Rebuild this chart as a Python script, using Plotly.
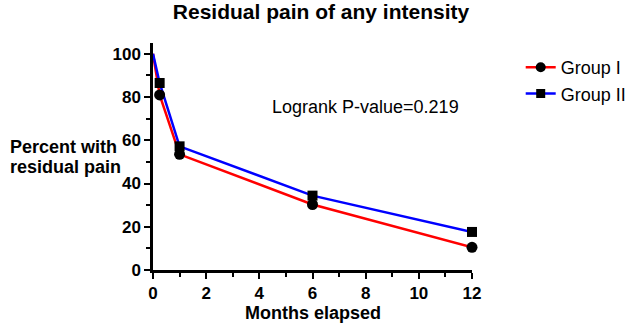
import plotly.graph_objects as go

months = [0, 0.25, 1, 6, 12]
group1 = [100, 81, 53.5, 30.3, 10.5]
group2 = [100, 86.5, 57.2, 34.4, 17.6]
x_ticks = [0, 2, 4, 6, 8, 10, 12]
y_ticks = [0, 20, 40, 60, 80, 100]

FONT = "Arial, Liberation Sans, Helvetica, sans-serif"

fig = go.Figure()
fig.add_trace(go.Scatter(x=months, y=group1, mode="lines", name="Group I",
                         line=dict(color="#ff0000", width=2.5), showlegend=False, cliponaxis=False))
fig.add_trace(go.Scatter(x=months, y=group2, mode="lines", name="Group II",
                         line=dict(color="#0000ff", width=2.5), showlegend=False, cliponaxis=False))
fig.add_trace(go.Scatter(x=months[1:], y=group1[1:], mode="markers", showlegend=False,
                         marker=dict(symbol="circle", size=11, color="black"), cliponaxis=False))
fig.add_trace(go.Scatter(x=months[1:], y=group2[1:], mode="markers", showlegend=False,
                         marker=dict(symbol="square", size=10, color="black"), cliponaxis=False))
# legend entries
fig.add_trace(go.Scatter(x=[None], y=[None], mode="lines+markers", name="Group I",
                         line=dict(color="#ff0000", width=2.5),
                         marker=dict(symbol="circle", size=10, color="black")))
fig.add_trace(go.Scatter(x=[None], y=[None], mode="lines+markers", name="Group II",
                         line=dict(color="#0000ff", width=2.5),
                         marker=dict(symbol="square", size=9, color="black")))

axis_common = dict(showline=True, linecolor="black", linewidth=2.5, ticks="outside",
                   ticklen=6, tickwidth=2, tickcolor="black", showgrid=False, zeroline=False,
                   tickfont=dict(family=FONT, size=17, color="black", weight="bold"))
fig.update_xaxes(range=[0, 12], tickvals=x_ticks,
                 minor=dict(ticks="outside", dtick=1, ticklen=4, tickwidth=2, tickcolor="black"),
                 **axis_common)
fig.update_yaxes(range=[0, 105], tickvals=y_ticks,
                 minor=dict(ticks="outside", tickvals=[10, 30, 50, 70, 90], ticklen=4,
                            tickwidth=2, tickcolor="black"),
                 **axis_common)

L, R, T, B = 153, 157, 43, 54
W, H = 644, 324
pw, ph = W - L - R, H - T - B


def px(x):
    return (x - L) / pw


def py(y):
    return (H - B - y) / ph


fig.update_layout(
    width=W, height=H,
    margin=dict(l=L, r=R, t=T, b=B),
    paper_bgcolor="white", plot_bgcolor="white",
    title=dict(text="<b>Residual pain of any intensity</b>", x=321 / W, xanchor="center",
               y=1 - 12 / H, yanchor="middle",
               font=dict(family=FONT, size=21, color="black")),
    legend=dict(x=px(538), y=py(49), xanchor="left", yanchor="top", bgcolor="rgba(0,0,0,0)",
                font=dict(family=FONT, size=18, color="black"), itemwidth=30),
    annotations=[
        dict(text="Logrank P-value=0.219", x=px(375), y=py(107), xref="paper", yref="paper",
             xanchor="center", yanchor="middle", showarrow=False,
             font=dict(family=FONT, size=18, color="black")),
        dict(text="<b>Percent with</b>", x=px(1), y=py(147), xref="paper", yref="paper",
             xanchor="left", yanchor="middle", showarrow=False,
             font=dict(family=FONT, size=18, color="black")),
        dict(text="<b>residual pain</b>", x=px(1), y=py(167), xref="paper", yref="paper",
             xanchor="left", yanchor="middle", showarrow=False,
             font=dict(family=FONT, size=18, color="black")),
        dict(text="<b>Months elapsed</b>", x=px(320), y=py(313), xref="paper", yref="paper",
             xanchor="center", yanchor="middle", showarrow=False,
             font=dict(family=FONT, size=18, color="black")),
    ],
)

fig.write_html("out.html", config={"displayModeBar": False},
               post_script="document.body.style.margin='0px';")
